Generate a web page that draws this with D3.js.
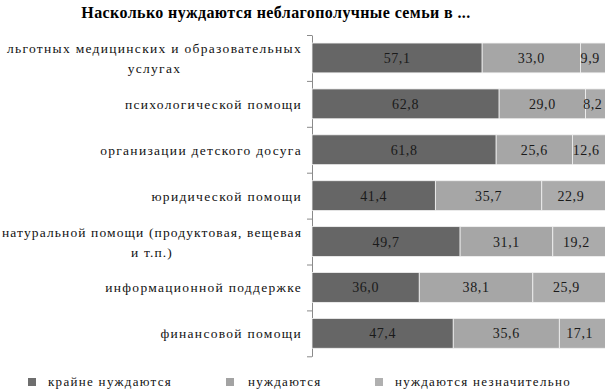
<!DOCTYPE html>
<html>
<head>
<meta charset="utf-8">
<script src="https://cdn.jsdelivr.net/npm/d3@7"></script>
<style>
  body { margin: 0; background: #fff; }
</style>
</head>
<body>
<div id="chart"></div>
<script>
// categories (multi-line labels split with "|")
const categories = [
  "льготных медицинских и образовательных|услугах",
  "психологической помощи",
  "организации детского досуга",
  "юридической помощи",
  "натуральной помощи (продуктовая, вещевая|и т.п.)",
  "информационной поддержке",
  "финансовой помощи"
];
const extreme = [57.1, 62.8, 61.8, 41.4, 49.7, 36.0, 47.4];
const needs = [33.0, 29.0, 25.6, 35.7, 31.1, 38.1, 35.6];
const slight = [9.9, 8.2, 12.6, 22.9, 19.2, 25.9, 17.1];
const seriesNames = ["крайне нуждаются", "нуждаются", "нуждаются незначительно"];
const colours = ["#666666", "#a6a6a6", "#ababab"];

const width = 605, height = 391;
const serif = "'Liberation Serif', 'Times New Roman', 'Noto Sans', serif";
const fmt = v => v.toFixed(1).replace(".", ",");

const svg = d3.select("#chart")
  .append("svg")
    .attr("width", width)
    .attr("height", height)
    .attr("font-family", serif);

// title
svg.append("text")
    .attr("x", 276)
    .attr("y", 18)
    .attr("text-anchor", "middle")
    .style("font-size", "16px")
    .style("font-weight", "bold")
    .style("letter-spacing", "0.4px")
    .text("Насколько нуждаются неблагополучные семьи в ...");

// stacked rows
const rows = categories.map((c, i) => ({ cat: c, vals: [extreme[i], needs[i], slight[i]] }));

const x = d3.scaleLinear()
            .domain([0, 100])
            .range([312, 610]);

const y = d3.scaleBand()
            .domain(categories)
            .range([35, 356.3])
            .paddingInner(0.35)
            .paddingOuter(0.175);

// axis with ticks on category boundaries
const yEdge = d3.scaleLinear()
                .domain([0, categories.length])
                .range([35, 356.3]);

svg.append("g")
   .attr("transform", "translate(312,0)")
   .call(d3.axisLeft(yEdge).tickValues(d3.range(categories.length + 1)).tickFormat("").tickSize(5).tickSizeOuter(0))
   .call(g => g.selectAll("path, line").attr("stroke", "#8a8a8a"));

const stacked = d3.stack().keys([0, 1, 2]).value((d, k) => d.vals[k])(rows);

const layer = svg.append("g")
  .selectAll("g")
  .data(stacked)
  .enter()
  .append("g")
    .attr("fill", (d, i) => colours[i]);

layer.selectAll("rect")
  .data(d => d)
  .enter()
  .append("rect")
    .attr("x", d => x(d[0]))
    .attr("y", d => y(d.data.cat))
    .attr("width", d => x(d[1]) - x(d[0]))
    .attr("height", y.bandwidth())
    .attr("stroke", "#f2f2f2")
    .attr("stroke-width", 0.8);

// value labels, centred on the visible part of each segment
layer.selectAll("text")
  .data(d => d)
  .enter()
  .append("text")
    .attr("x", d => (x(d[0]) + Math.min(x(d[1]), 600)) / 2)
    .attr("y", d => y(d.data.cat) + y.bandwidth() / 2 + 5)
    .attr("text-anchor", "middle")
    .attr("fill", "#1a1a1a")
    .style("font-size", "14px")
    .style("letter-spacing", "0.6px")
    .text(d => fmt(d[1] - d[0]));

// category labels: block flush right, lines centred within it
const labelRight = 302, maxLabel = 300, ls = 1.3;
categories.forEach(c => {
  const lines = c.split("|");
  const cy = y(c) + y.bandwidth() / 2;
  const g = svg.append("g");
  const texts = lines.map((ln, j) => g.append("text")
      .attr("y", cy + 5 + (j - (lines.length - 1) / 2) * 20)
      .attr("text-anchor", "middle")
      .attr("fill", "#111")
      .style("font-size", "13.5px")
      .style("letter-spacing", ls + "px")
      .text(ln));
  let maxW = d3.max(texts, t => t.node().getComputedTextLength());
  if (maxW > maxLabel) {
    // squeeze the spacing of over-long labels so they stay inside the picture
    const n = d3.max(lines, l => l.length);
    const ls2 = ls - (maxW - maxLabel) / n;
    texts.forEach(t => t.style("letter-spacing", ls2 + "px"));
    maxW = d3.max(texts, t => t.node().getComputedTextLength());
  }
  texts.forEach(t => t.attr("x", labelRight - maxW / 2));
});

// legend
const legendX = [28, 226, 375];
const legend = svg.append("g")
  .selectAll("g")
  .data(seriesNames)
  .enter()
  .append("g")
    .attr("transform", (d, i) => `translate(${legendX[i]},378)`);

legend.append("rect")
    .attr("width", 8)
    .attr("height", 8)
    .attr("fill", (d, i) => ["#6e6e6e", "#a3a3a3", "#b0b0b0"][i]);

legend.append("text")
    .attr("x", (d, i) => [20, 22, 20][i])
    .attr("y", 8)
    .attr("fill", "#111")
    .style("font-size", "13px")
    .style("letter-spacing", "1.3px")
    .text(d => d);
</script>
</body>
</html>
